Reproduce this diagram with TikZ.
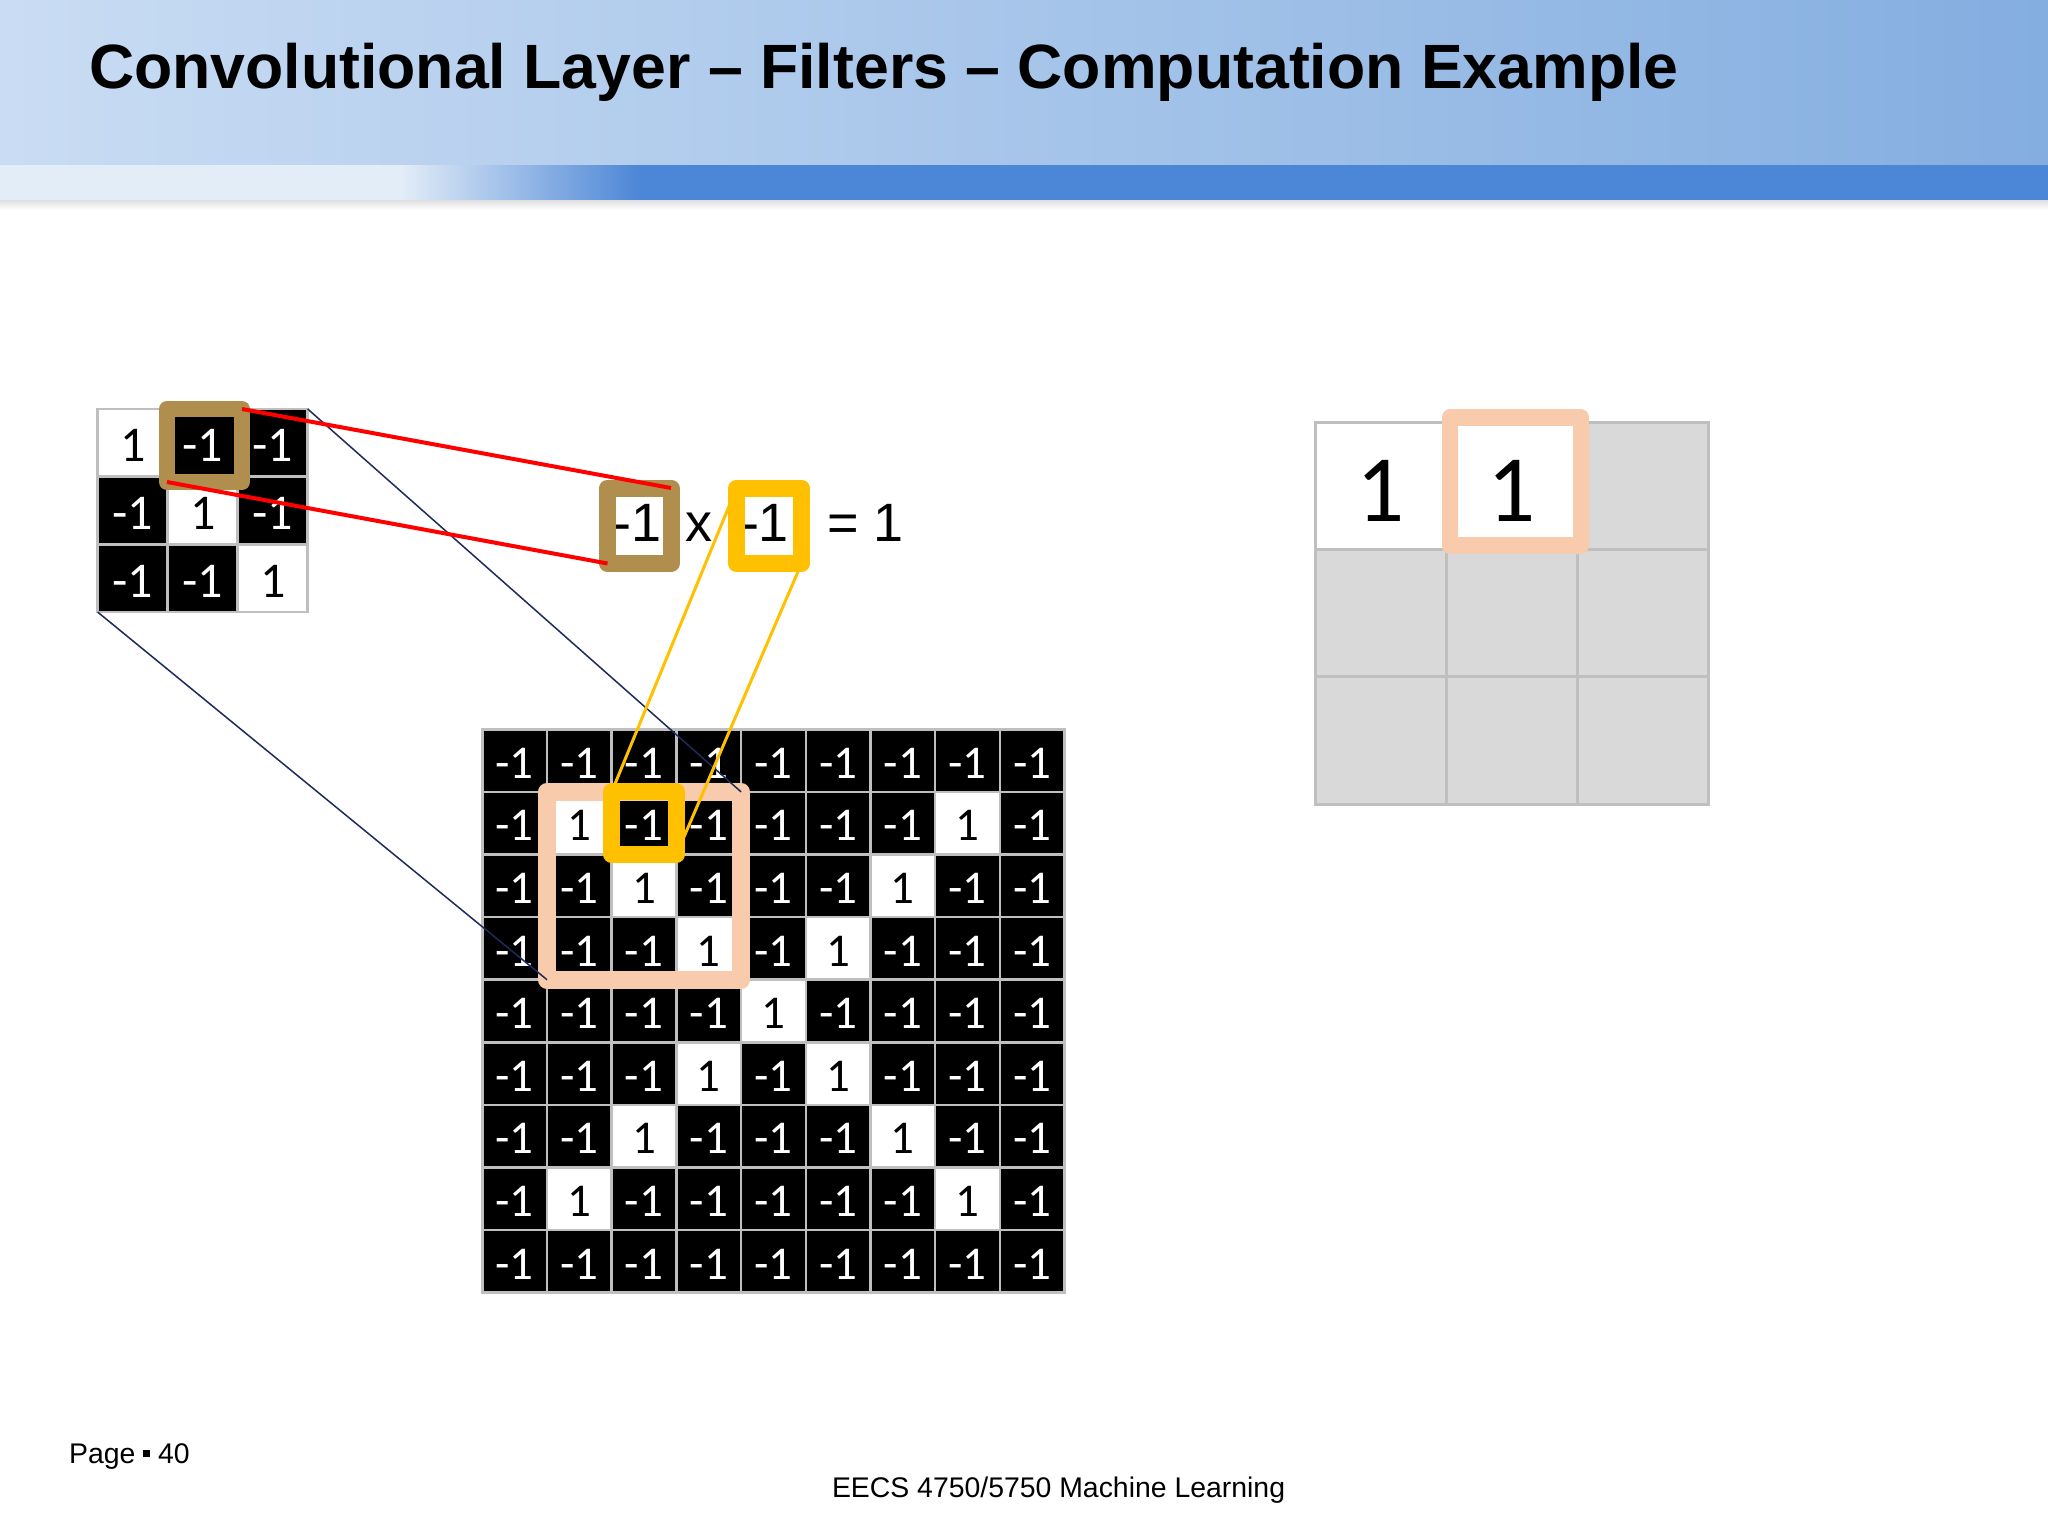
\documentclass[tikz,border=0pt]{standalone}
\usepackage{fontspec}
\setmainfont{Liberation Sans}
\newfontfamily\cellfont{Carlito}
\usepackage{xcolor}
\usepackage{tikz}
\usetikzlibrary{positioning}
\definecolor{peach}{HTML}{F8CBAD}
\definecolor{gold}{HTML}{FFC000}
\definecolor{bronze}{HTML}{AF8E4E}
\definecolor{gridgray}{HTML}{BFBFBF}
\definecolor{cellgray}{HTML}{D9D9D9}
\definecolor{navy}{HTML}{1F2A5C}
\definecolor{bandleft}{HTML}{C9DCF3}
\definecolor{bandright}{HTML}{84AEE0}
\definecolor{stripelight}{HTML}{E3EDF8}
\definecolor{stripeblue}{HTML}{4C86D6}

\begin{document}
\begin{tikzpicture}[x=0.5pt,y=-0.5pt,cell/.style={rectangle,draw=gridgray,inner sep=0pt,outer sep=0pt}]
    \tikzstyle{gcell} = [cell,line width=1.25pt,minimum width=32.35pt,minimum height=31.3pt,text height=17.7pt,text depth=0pt,font=\cellfont\fontsize{23.5}{24}\selectfont]
    \tikzstyle{fcell} = [cell,line width=1.25pt,minimum width=35pt,minimum height=33.85pt,text height=18.85pt,text depth=0pt,font=\cellfont\fontsize{25}{26}\selectfont]
    \tikzstyle{ocell} = [cell,line width=1.5pt,fill=cellgray,minimum width=65.5pt,minimum height=63.55pt,text height=35.7pt,text depth=0pt,font=\cellfont\fontsize{47.5}{48}\selectfont]
    \tikzstyle{cellon} = [fill=white,text=black]
    \tikzstyle{celloff} = [fill=black,text=white]
    \tikzstyle{selbox} = [rectangle,inner sep=0pt,outer sep=0pt,line join=round]
    \tikzstyle{eqtext} = [anchor=base,inner sep=0pt,font=\fontsize{27}{28}\selectfont]
    \tikzstyle{redline} = [red,line width=2pt]
    \tikzstyle{goldline} = [gold,line width=1.5pt]
    \tikzstyle{navyline} = [navy,line width=0.75pt]
        \useasboundingbox (0,0) rectangle (2048,1536);
        \fill[white] (0,0) rectangle (2048,1536);
        %%% title bar %%%
        \fill[left color=bandleft,right color=bandright] (0,0) rectangle (2048,165);
        \fill[stripelight] (0,165) rectangle (400,200);
        \fill[left color=stripelight,right color=stripeblue] (400,165) rectangle (640,200);
        \fill[stripeblue] (640,165) rectangle (2048,200);
        \fill[top color=gray!25,bottom color=white] (0,200) rectangle (2048,210);
        \node[anchor=base west,inner sep=0pt,font=\fontsize{31.3}{32}\selectfont\bfseries] (title) at (88.6,89) {Convolutional Layer – Filters – Computation Example};
        %%% filter %%%
        \foreach \r in {0,1,2}{
            \foreach \c in {0,1,2}{
                \ifnum\r=\c
                    \node[fcell,cellon] (f-\r-\c) at ({97.7+70*(\c+0.5)},{409+67.7*(\r+0.5)}) {1};
                \else
                    \node[fcell,celloff] (f-\r-\c) at ({97.7+70*(\c+0.5)},{409+67.7*(\r+0.5)}) {-1};
                \fi
            }
        }
        %%% image %%%
        \foreach \r in {0,...,8}{
            \foreach \c in {0,...,8}{
                \pgfmathtruncatemacro{\lit}{((\r==\c)||(\r+\c==8))&&(\r>0)&&(\r<8)}
                \ifnum\lit=1
                    \node[gcell,cellon] (g-\r-\c) at ({482.3+64.7*(\c+0.5)},{729.3+62.6*(\r+0.5)}) {1};
                \else
                    \node[gcell,celloff] (g-\r-\c) at ({482.3+64.7*(\c+0.5)},{729.3+62.6*(\r+0.5)}) {-1};
                \fi
            }
        }
        %%% feature map %%%
        \foreach \r in {0,1,2}{
            \foreach \c in {0,1,2}{
                \pgfmathtruncatemacro{\lit}{(\r==0)&&(\c<2)}
                \ifnum\lit=1
                    \node[ocell,fill=white] (o-\r-\c) at ({1315+131*(\c+0.5)},{422.7+127.1*(\r+0.5)}) {1};
                \else
                    \node[ocell] (o-\r-\c) at ({1315+131*(\c+0.5)},{422.7+127.1*(\r+0.5)}) {};
                \fi
            }
        }
        %%% highlight boxes
        \node[selbox,draw=peach,line width=9pt,minimum width=97.05pt,minimum height=93.9pt] (win) at (g-2-2) {};
        \node[selbox,draw=gold,line width=8.5pt,minimum width=32.35pt,minimum height=31.3pt] (gsel) at (g-1-2) {};
        \node[selbox,draw=bronze,line width=8pt,minimum width=37.5pt,minimum height=36.5pt] (fsel) at (204.5,445.5) {};
        \node[selbox,draw=peach,line width=8.3pt,minimum width=65.5pt,minimum height=64pt] (osel) at (1515.5,481.7) {};
        %%% product %%%
        \node[eqtext] (atxt) at (637.7,541.7) {-1};
        \node[selbox,draw=bronze,line width=8.5pt,minimum width=31.75pt,minimum height=37.75pt] (mulA) at (639.25,525.75) {};
        \node[eqtext] (times) at (698.7,541.7) {x};
        \node[eqtext] (btxt) at (765,541.7) {-1};
        \node[selbox,draw=gold,line width=8.5pt,minimum width=32.5pt,minimum height=37.75pt,right=32.75pt of mulA] (mulB) {};
        \node[eqtext] (res) at (865.6,541.7) {= 1};
        %%% connections
        \draw[navyline] (f-0-2.north east) -- (win.north east);
        \draw[navyline] (f-2-0.south west) -- (win.south west);
        \draw[redline] (fsel.north east) -- (mulA.north east);
        \draw[redline] (fsel.south west) -- (mulA.south west);
        \draw[goldline] (gsel.north west) -- (mulB.north west);
        \draw[goldline] (mulB.south east) -- (gsel.south east);
        %%% footer
        \node[anchor=base west,inner sep=0pt,font=\fontsize{14.2}{14.2}\selectfont] (page) at (68.7,1463) {Page \rule[3pt]{3.4pt}{3.4pt} 40};
        \node[anchor=base west,inner sep=0pt,font=\fontsize{14.2}{14.2}\selectfont] (course) at (831.6,1497.3) {EECS 4750/5750 Machine Learning};
\end{tikzpicture}
\end{document}
